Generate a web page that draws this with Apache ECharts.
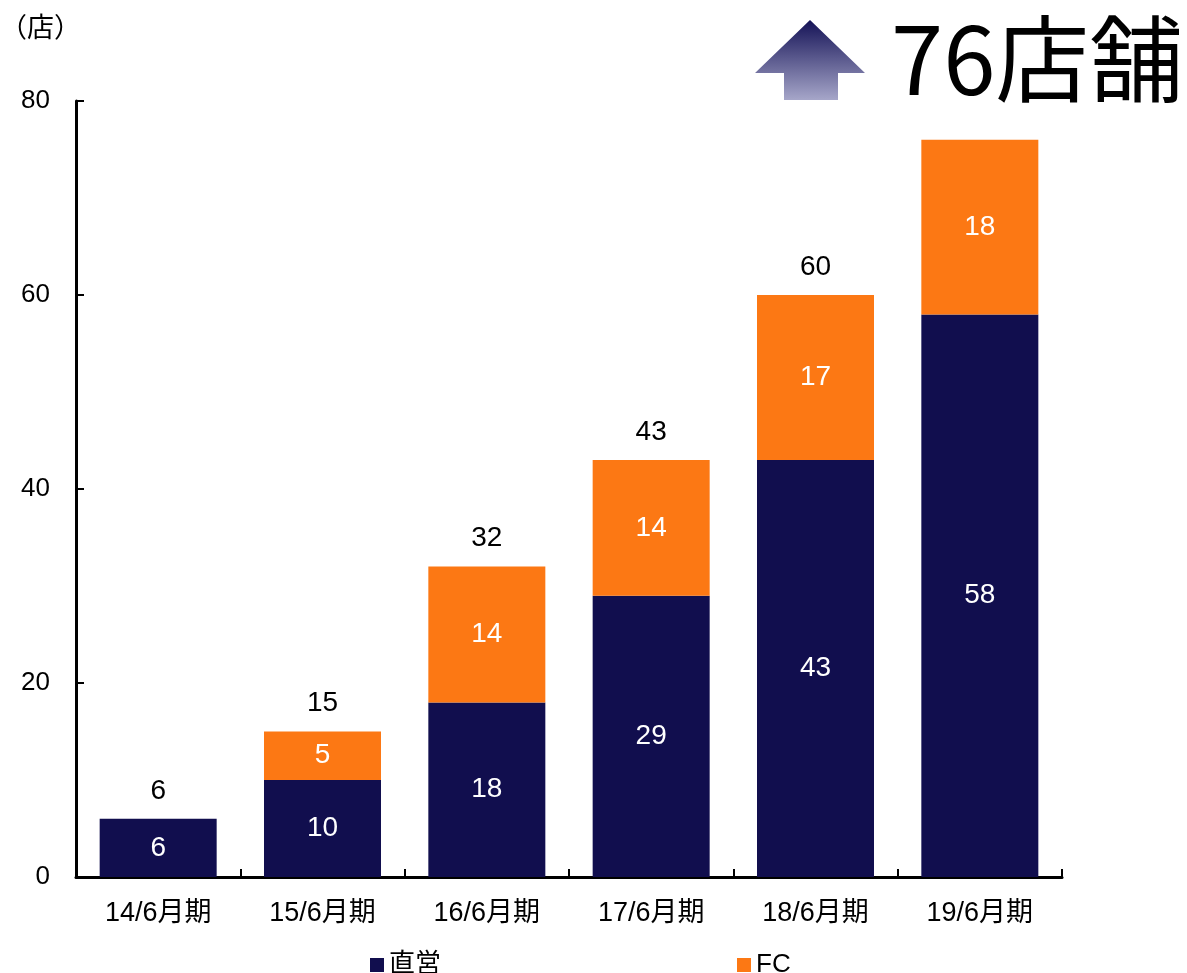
<!DOCTYPE html>
<html>
<head>
<meta charset="utf-8">
<script src="https://cdn.jsdelivr.net/npm/echarts@6/dist/echarts.min.js"></script>
<style>
  html, body { margin: 0; padding: 0; background: #fff; }
  #chart { width: 1187px; height: 973px; }
</style>
</head>
<body>
<div id="chart"></div>
<script>
// Store counts per fiscal period (June year-end)
const categories = ['14/6月期', '15/6月期', '16/6月期', '17/6月期', '18/6月期', '19/6月期'];
const directStores = [6, 10, 18, 29, 43, 58];   // 直営
const fcStores = [0, 5, 14, 14, 17, 18];        // FC
const totals = [6, 15, 32, 43, 60, 76];
const yTicks = [0, 20, 40, 60, 80];
const headline = '76店舗';

const NAVY = '#110e4e';
const ORANGE = '#fc7814';
const FONT = '"Liberation Sans", Arial, "Noto Sans CJK JP", sans-serif';
const CJK = '"Noto Sans CJK JP", sans-serif';

const chart = echarts.init(document.getElementById('chart'), null, { renderer: 'canvas' });

chart.setOption({
  backgroundColor: '#fff',
  animation: false,
  textStyle: { fontFamily: FONT },
  grid: { left: 76, right: 125, top: 101, bottom: 96, containLabel: false },
  legend: {
    data: ['直営', 'FC'],
    left: 365,
    top: 947,
    itemWidth: 14,
    itemHeight: 14,
    itemGap: 296,
    icon: 'rect',
    textStyle: { fontSize: 26, color: '#000', fontFamily: FONT, padding: [2, 0, 0, 0] }
  },
  xAxis: {
    type: 'category',
    data: categories,
    axisLine: { lineStyle: { color: '#000', width: 3 } },
    axisTick: { show: true, inside: true, length: 8, lineStyle: { color: '#000', width: 2 } },
    axisLabel: { fontSize: 27, color: '#000', margin: 23, fontFamily: FONT }
  },
  yAxis: {
    type: 'value',
    min: yTicks[0],
    max: yTicks[yTicks.length - 1],
    interval: 20,
    axisLine: { show: true, lineStyle: { color: '#000', width: 3 } },
    axisTick: { show: true, inside: true, length: 8, lineStyle: { color: '#000', width: 2 } },
    splitLine: { show: false },
    axisLabel: { fontSize: 26, color: '#000', margin: 26, fontFamily: FONT }
  },
  series: [
    {
      name: '直営',
      type: 'bar',
      stack: 'stores',
      data: directStores,
      barWidth: 117,
      itemStyle: { color: NAVY },
      label: {
        show: true, position: 'inside', color: '#fff', fontSize: 28, fontFamily: FONT
      }
    },
    {
      name: 'FC',
      type: 'bar',
      stack: 'stores',
      data: fcStores,
      barWidth: 117,
      itemStyle: { color: ORANGE },
      label: {
        show: true, position: 'inside', color: '#fff', fontSize: 28, fontFamily: FONT,
        formatter: p => (p.value > 0 ? p.value : '')
      }
    },
    {
      // Zero-height cap on each stack carrying the period total above it;
      // the latest total is given by the headline instead
      name: '合計',
      type: 'bar',
      stack: 'stores',
      data: totals.map(() => 0),
      barWidth: 117,
      itemStyle: { color: 'rgba(0,0,0,0)' },
      label: {
        show: true, position: 'top', distance: 14, color: '#000', fontSize: 28, fontFamily: FONT,
        formatter: p => (p.dataIndex < totals.length - 1 ? String(totals[p.dataIndex]) : '')
      },
      z: 5
    }
  ],
  graphic: [
    {
      type: 'text',
      x: 0,
      y: 27,
      style: {
        text: '（店）', fontSize: 27, fill: '#000', fontFamily: CJK,
        verticalAlign: 'middle', align: 'left'
      }
    },
    {
      type: 'polygon',
      shape: {
        points: [[810, 20], [865, 73], [838, 73], [838, 100], [784, 100], [784, 73], [755, 73]]
      },
      style: {
        fill: new echarts.graphic.LinearGradient(0, 0, 0, 1, [
          { offset: 0, color: '#141256' },
          { offset: 1, color: '#a6a6c9' }
        ])
      }
    },
    {
      type: 'text',
      x: 891,
      y: 59,
      style: {
        text: headline, fontSize: 94, fill: '#000', fontFamily: CJK,
        verticalAlign: 'middle', align: 'left'
      }
    }
  ]
});
</script>
</body>
</html>
